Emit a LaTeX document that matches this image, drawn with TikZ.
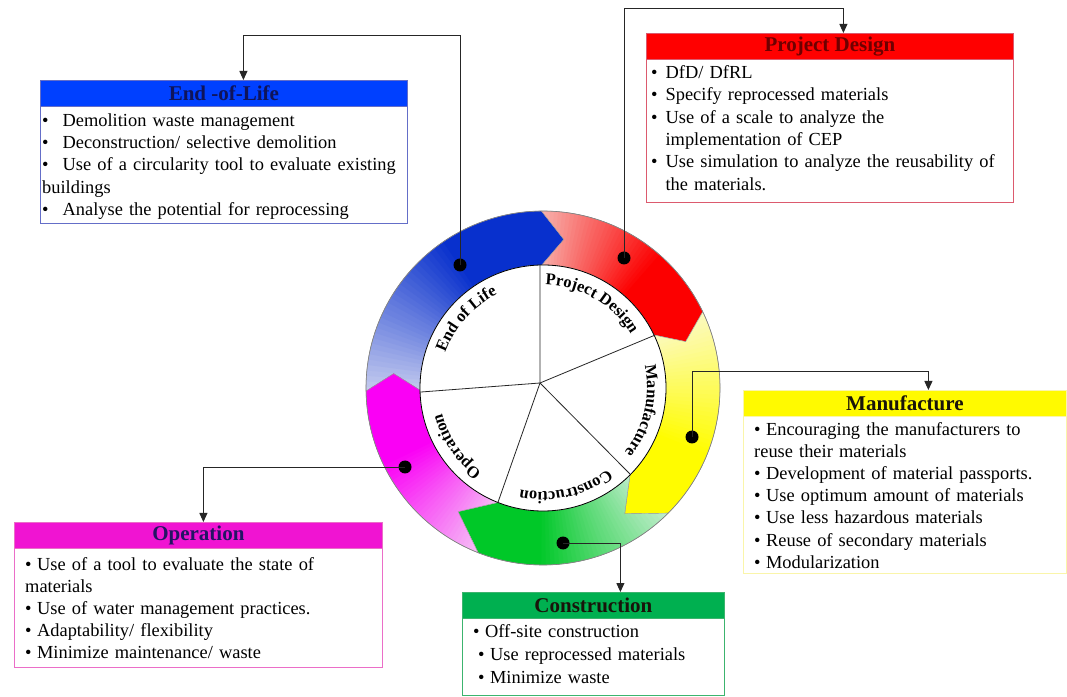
\documentclass[tikz,border=0pt]{standalone}
\usepackage{fontspec}
\setmainfont{Liberation Serif}
\usetikzlibrary{arrows.meta,decorations.text}
\definecolor{bluefull}{RGB}{8,48,205}
\definecolor{bluelight}{RGB}{205,210,240}
\definecolor{redfull}{RGB}{252,0,0}
\definecolor{redlight}{RGB}{246,190,185}
\definecolor{yelfull}{RGB}{255,252,0}
\definecolor{yellight}{RGB}{252,250,205}
\definecolor{grnfull}{RGB}{0,200,40}
\definecolor{grnlight}{RGB}{205,240,215}
\definecolor{magfull}{RGB}{250,0,245}
\definecolor{maglight}{RGB}{245,205,245}
\definecolor{hblue}{RGB}{0,64,255}
\definecolor{hred}{RGB}{255,0,0}
\definecolor{hyel}{RGB}{255,250,0}
\definecolor{hmag}{RGB}{240,20,210}
\definecolor{hgrn}{RGB}{0,176,80}
\definecolor{tblue}{RGB}{15,20,90}
\definecolor{tred}{RGB}{110,0,0}
\definecolor{tdark}{RGB}{25,20,10}
\definecolor{tnavy}{RGB}{35,20,100}
\definecolor{bdblue}{RGB}{100,110,200}
\definecolor{bdred}{RGB}{220,90,110}
\definecolor{bdyel}{RGB}{250,245,170}
\definecolor{bdmag}{RGB}{235,110,200}
\definecolor{bdgrn}{RGB}{60,180,110}
\newcommand\bodyfnt[1]{\fontsize{18.4pt}{#1}\selectfont}
\newcommand\headfnt{\fontsize{21pt}{24pt}\selectfont\bfseries}
\newcommand\lblfnt{\fontsize{16.5pt}{18pt}\selectfont\bfseries}
\newcommand\bul[1]{\textbullet\hspace{#1}}
\def\Ro{177pt}\def\Ri{123pt}\def\Rm{150pt}
% #1 start corner, #2 notch, #3 end corner, #4 tip, #5 light, #6 full
\newcommand\gradband[6]{%
  \begin{scope}
    \clip (#1:\Ro) arc[start angle=#1, end angle=#3, radius=\Ro] -- (#4:\Rm) -- (#3:\Ri)
      arc[start angle=#3, end angle=#1, radius=\Ri] -- (#2:\Rm) -- cycle;
    \foreach \k in {0,...,59}{%
      \pgfmathsetmacro\aA{(#1)+4-((#1)-(#4)+8)*\k/60}%
      \pgfmathsetmacro\aB{(#1)+4-((#1)-(#4)+8)*(\k+1.4)/60}%
      \pgfmathtruncatemacro\pp{min(100,100*\k/34)}%
      \fill[#6!\pp!#5] (0,0) -- (\aA:200pt) -- (\aB:200pt) -- cycle;
    }
  \end{scope}
  \draw[bandedge] (#1:\Ro) arc[start angle=#1, end angle=#3, radius=\Ro] -- (#4:\Rm) -- (#3:\Ri)
      arc[start angle=#3, end angle=#1, radius=\Ri] -- (#2:\Rm) -- cycle;
}
\begin{document}
\begin{tikzpicture}[x=1pt,y=1pt,
  conn/.style={draw=black!85,line width=0.9pt,-{Triangle[length=9pt,width=8pt]}},
  dotnode/.style={circle,fill=black,inner sep=0pt,minimum size=13pt},
  boxframe/.style={draw,line width=0.8pt,inner sep=0pt,anchor=north west,fill=white},
  headbar/.style={draw,line width=0.8pt,inner sep=0pt,anchor=north west,minimum height=26pt,font=\headfnt},
  bodytxt/.style={anchor=north west,inner sep=0pt,align=left,text width=360pt},
  bandedge/.style={draw=black!40,line width=0.4pt},
  pieline/.style={draw=black!85,line width=0.8pt}
]
\fill[white] (0,0) rectangle (1067,696);
\useasboundingbox (0,0) rectangle (1067,696);

% ---------- wheel ----------
\begin{scope}[shift={(543,308)}]
  \gradband{181}{174.5}{90.5}{82}{bluelight}{bluefull}
  \gradband{90.5}{82}{25.5}{18}{redlight}{redfull}
  \gradband{25.5}{18}{-45}{-57}{yellight}{yelfull}
  \gradband{-45}{-57}{-111.5}{-124.5}{grnlight}{grnfull}
  \gradband{-111.5}{-124.5}{-179}{-185.5}{maglight}{magfull}
  \draw[black!50,line width=0.6pt] (0,0) circle[radius=\Ro];
  \draw[fill=white,line width=0.8pt] (0,0) circle[radius=\Ri];
  \coordinate (pc) at (-3,5);
  \draw[pieline] (pc) -- (91.4:\Ri);
  \draw[pieline] (pc) -- (25.3:\Ri);
  \draw[pieline] (pc) -- (-44.7:\Ri);
  \draw[pieline] (pc) -- (-111.5:\Ri);
  \draw[pieline] (pc) -- (181.9:\Ri);
  \path[decorate,decoration={text along path,text align=center,text={|\lblfnt|Project Design}}]
    (100:103pt) arc[start angle=100,end angle=20,radius=103pt];
  \path[decorate,decoration={text along path,text align=center,text={|\lblfnt|Manufacture}}]
    (27:104pt) arc[start angle=27,end angle=-53,radius=104pt];
  \path[decorate,decoration={text along path,text align=center,text={|\lblfnt|Construction}}]
    (-37:104pt) arc[start angle=-37,end angle=-117,radius=104pt];
  \path[decorate,decoration={text along path,text align=center,text={|\lblfnt|Operation}}]
    (-106:104pt) arc[start angle=-106,end angle=-186,radius=104pt];
  \path[decorate,decoration={text along path,text align=center,text={|\lblfnt|End of Life}}]
    (178:104pt) arc[start angle=178,end angle=98,radius=104pt];
\end{scope}

% ---------- dots ----------
\node[dotnode] (dB) at (460,431) {};
\node[dotnode] (dR) at (624,438) {};
\node[dotnode] (dY) at (692,259) {};
\node[dotnode] (dG) at (563,153) {};
\node[dotnode] (dM) at (405,229) {};

% ---------- End-of-Life ----------
\node[boxframe,draw=bdblue,minimum width=367pt,minimum height=143pt] (eol) at (40,616) {};
\node[headbar,fill=hblue,draw=bdblue,minimum width=367pt,text=tblue] (eolH) at (40,616) {End -of-Life};
\node[bodytxt,font=\bodyfnt{22.3pt}] (eolT) at (42,585.6) {\strut\bul{14pt}Demolition waste management\\
\bul{14pt}Deconstruction/ selective demolition\\
\bul{14pt}Use of a circularity tool to evaluate existing\\
buildings\\
\bul{14pt}Analyse the potential for reprocessing};

% ---------- Project Design ----------
\node[boxframe,draw=bdred,minimum width=367pt,minimum height=169pt] (pd) at (646,663) {};
\node[headbar,fill=hred,draw=bdred,minimum width=367pt,text=tred] (pdH) at (646,663) {Project Design};
\node[bodytxt,font=\bodyfnt{22.4pt}] (pdT) at (651,633.6) {\strut\bul{8pt}DfD/ DfRL\\
\bul{8pt}Specify reprocessed materials\\
\bul{8pt}Use of a scale to analyze the\\
\hspace*{14.4pt}implementation of CEP\\
\bul{8pt}Use simulation to analyze the reusability of\\
\hspace*{14.4pt}the materials.};

% ---------- Manufacture ----------
\node[boxframe,draw=bdyel,minimum width=323pt,minimum height=183pt] (mf) at (743,306) {};
\node[headbar,fill=hyel,draw=bdyel,minimum width=323pt,text=tdark] (mfH) at (743,306) {Manufacture};
\node[bodytxt,font=\bodyfnt{22.2pt},text width=310pt] (mfT) at (754,276.6) {\strut\bul{5.5pt}Encouraging the manufacturers to\\
reuse their materials\\
\bul{5.5pt}Development of material passports.\\
\bul{5.5pt}Use optimum amount of materials\\
\bul{5.5pt}Use less hazardous materials\\
\bul{5.5pt}Reuse of secondary materials\\
\bul{5.5pt}Modularization};

% ---------- Operation ----------
\node[boxframe,draw=bdmag,minimum width=368pt,minimum height=145pt] (op) at (14,174) {};
\node[headbar,fill=hmag,draw=bdmag,minimum width=368pt,text=tnavy] (opH) at (14,174) {Operation};
\node[bodytxt,font=\bodyfnt{22pt}] (opT) at (25,141.6) {\strut\bul{5.5pt}Use of a tool to evaluate the state of\\
materials\\
\bul{5.5pt}Use of water management practices.\\
\bul{5.5pt}Adaptability/ flexibility\\
\bul{5.5pt}Minimize maintenance/ waste};

% ---------- Construction ----------
\node[boxframe,draw=bdgrn,minimum width=262pt,minimum height=103pt] (cn) at (462,104) {};
\node[headbar,fill=hgrn,draw=bdgrn,minimum width=262pt,text=tdark] (cnH) at (462,104) {Construction};
\node[bodytxt,font=\bodyfnt{23pt},text width=250pt] (cnT) at (473,74.6) {\strut\bul{5.5pt}Off-site construction\\
\hspace*{5pt}\bul{5.5pt}Use reprocessed materials\\
\hspace*{5pt}\bul{5.5pt}Minimize waste};

% ---------- connectors ----------
\coordinate (cB) at (460,661);
\coordinate (cR) at (624,688);
\coordinate (cY) at (692,325);
\draw[conn] (dB.center) -- (cB) -| ([xshift=19.5pt]eol.north);
\draw[conn] (dR.center) -- (cR) -| ([xshift=13.5pt]pd.north);
\draw[conn] (dY.center) -- (cY) -| ([xshift=23.5pt]mf.north);
\draw[conn] (dM.center) -| ([xshift=5pt]op.north);
\draw[conn] (dG.center) -| ([xshift=27pt]cn.north);
\end{tikzpicture}
\end{document}
